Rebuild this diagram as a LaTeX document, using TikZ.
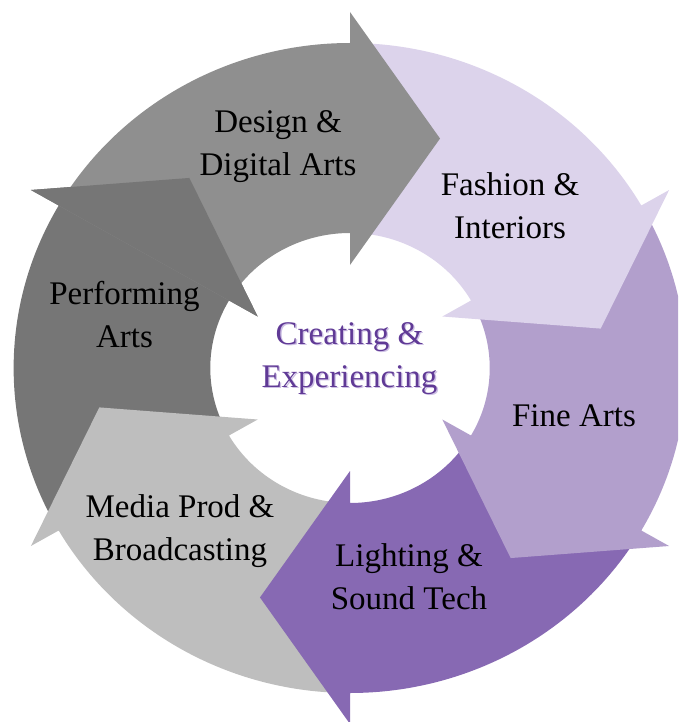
\documentclass[tikz,border=0pt]{standalone}
\usepackage{fontspec}
\setmainfont{Liberation Serif}
\definecolor{cDesign}{RGB}{143,143,143}
\definecolor{cPerf}{RGB}{118,118,118}
\definecolor{cMedia}{RGB}{190,190,190}
\definecolor{cLight}{RGB}{135,105,179}
\definecolor{cFine}{RGB}{178,159,204}
\definecolor{cFash}{RGB}{220,211,235}
\definecolor{cCenter}{RGB}{96,58,150}
\definecolor{cShadow}{RGB}{205,192,228}
% #1 base angle of the arrow head, #2 colour
\newcommand\ringseg[2]{%
  \fill[#2] (#1+60:325pt) arc[start angle=#1+60, end angle=#1, radius=325pt]
    -- (#1:356pt) -- (#1-20.76:245.4pt) -- (#1:103pt) -- (#1:135pt)
    arc[start angle=#1, end angle=#1+60, radius=135pt] -- cycle;}
\newcommand\ringhead[2]{%
  \fill[#2] (#1:356pt) -- (#1-20.76:245.4pt) -- (#1:103pt) -- cycle;}
\tikzset{
  lbl/.style={align=center, inner sep=0pt, text=black,
    font=\fontsize{33}{43}\selectfont},
  ctr/.style={lbl, text=cCenter},
  ctrshadow/.style={lbl, text=cShadow}
}
\begin{document}
\begin{tikzpicture}
\useasboundingbox (0pt,0pt) rectangle (678pt,-722pt);
\clip (0pt,0pt) rectangle (678pt,-722pt);
\begin{scope}[shift={(350pt,-368pt)}, xscale=1.035]
  \ringseg{150}{cPerf}
  \ringseg{210}{cMedia}
  \ringseg{-90}{cLight}
  \ringseg{-30}{cFine}
  \ringseg{30}{cFash}
  \ringseg{90}{cDesign}
  \ringhead{150}{cPerf}
\end{scope}
\node[lbl] (design) at (278pt,-146.5pt) {Design \&\\Digital Arts};
\node[lbl] (fashion) at (510pt,-205.5pt) {Fashion \&\\Interiors};
\node[lbl] (fine) at (574pt,-415.5pt) {Fine Arts};
\node[lbl] (light) at (409pt,-577pt) {Lighting \&\\Sound Tech};
\node[lbl] (media) at (180pt,-531pt) {Media Prod \&\\Broadcasting};
\node[lbl] (perf) at (124.5pt,-314.7pt) {Performing\\Arts};
\node[ctrshadow] (centershadow) at (350.8pt,-359.8pt) {Creating \&\\Experiencing};
\node[ctr] (center) at (349.5pt,-359pt) {Creating \&\\Experiencing};
\end{tikzpicture}
\end{document}
